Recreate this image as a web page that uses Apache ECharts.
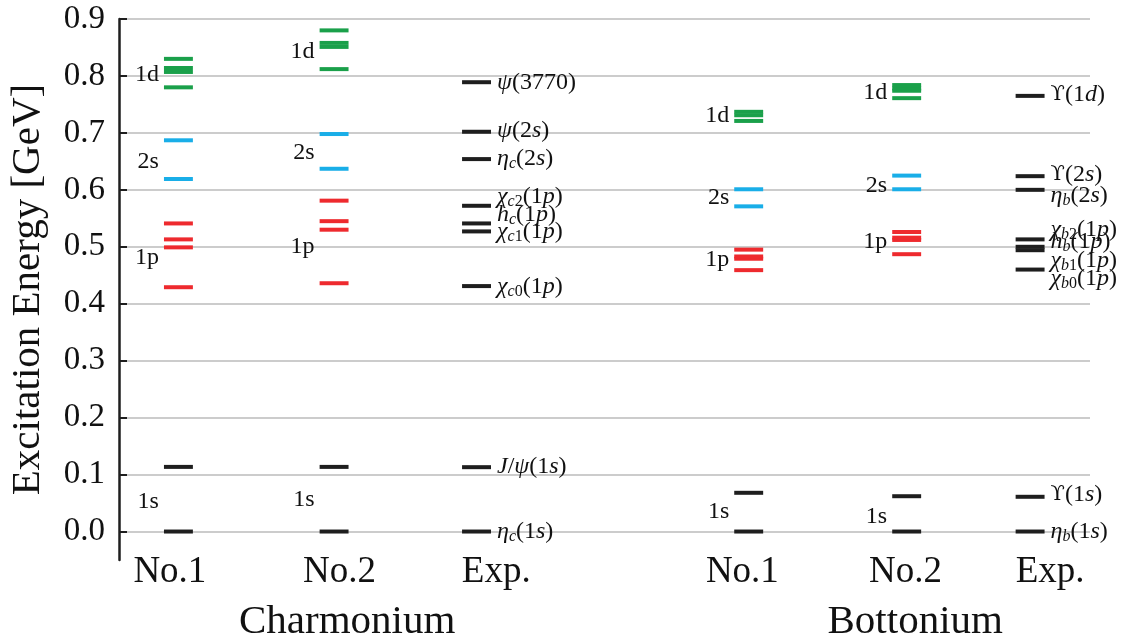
<!DOCTYPE html>
<html>
<head>
<meta charset="utf-8">
<script src="https://cdn.jsdelivr.net/npm/echarts@6/dist/echarts.min.js"></script>
<style>html,body{margin:0;padding:0;background:#fff}#c{width:1127px;height:643px}</style>
</head>
<body>
<div id="c"></div>
<script>
// ---------- data ----------
const categories = ['No.1', 'No.2', 'Exp.', 'No.1', 'No.2', 'Exp.'];
const groupNames = ['Charmonium', 'Bottonium'];
const yTicks = [0, 0.1, 0.2, 0.3, 0.4, 0.5, 0.6, 0.7, 0.8, 0.9];

// Charmonium, model No.1
const c1_1s = [0.000, 0.1135];
const c1_1p = [0.429, 0.499, 0.513, 0.541];
const c1_2s = [0.619, 0.687];
const c1_1d = [0.780, 0.807, 0.814, 0.830];
// Charmonium, model No.2
const c2_1s = [0.000, 0.1135];
const c2_1p = [0.436, 0.530, 0.545, 0.581];
const c2_2s = [0.637, 0.698];
const c2_1d = [0.812, 0.851, 0.858, 0.880];
// Charmonium, experiment
const cExp = [0.000, 0.113, 0.431, 0.527, 0.541, 0.572, 0.654, 0.702, 0.789];
const cExpNames = ['{i|η}{s|c}(1{i|s})', '{i|J}/{i|ψ}(1{i|s})', '{i|χ}{s|c}{n|0}(1{i|p})', '{i|χ}{s|c}{n|1}(1{i|p})',
  '{i|h}{s|c}(1{i|p})', '{i|χ}{s|c}{n|2}(1{i|p})', '{i|η}{s|c}(2{i|s})', '{i|ψ}(2{i|s})', '{i|ψ}(3770)'];
const cExpLabelY = [0.000, 0.114, 0.430, 0.526, 0.557, 0.588, 0.654, 0.703, 0.789];

// Bottomonium, model No.1
const b1_1s = [0.000, 0.068];
const b1_1p = [0.459, 0.479, 0.483, 0.495];
const b1_2s = [0.571, 0.601];
const b1_1d = [0.721, 0.731, 0.737];
// Bottomonium, model No.2
const b2_1s = [0.000, 0.062];
const b2_1p = [0.487, 0.512, 0.516, 0.526];
const b2_2s = [0.601, 0.625];
const b2_1d = [0.761, 0.774, 0.778, 0.784];
// Bottomonium, experiment
const bExp = [0.000, 0.061, 0.460, 0.494, 0.500, 0.513, 0.600, 0.624, 0.765];
const bExpNames = ['{i|η}{s|b}(1{i|s})', '{u|ϒ}(1{i|s})', '{i|χ}{s|b}{n|0}(1{i|p})', '{i|χ}{s|b}{n|1}(1{i|p})',
  '{i|h}{s|b}(1{i|p})', '{i|χ}{s|b}{n|2}(1{i|p})', '{i|η}{s|b}(2{i|s})', '{u|ϒ}(2{i|s})', '{u|ϒ}(1{i|d})'];
const bExpLabelY = [0.000, 0.065, 0.444, 0.475, 0.509, 0.530, 0.590, 0.626, 0.767];

// multiplet names and label heights per model column
const levelNames = ['1s', '1p', '2s', '1d'];
const c1LabelY = [0.053, 0.481, 0.649, 0.802];
const c2LabelY = [0.056, 0.500, 0.665, 0.842];
const b1LabelY = [0.035, 0.477, 0.586, 0.730];
const b2LabelY = [0.026, 0.509, 0.607, 0.770];

// ---------- layout (x axis units 0..100) ----------
const COL_X = [6.12, 22.15, 36.82, 64.85, 81.12, 93.83];
const CAT_LABEL_X = [5.24, 22.7, 38.85, 64.2, 81.0, 95.9];
const GROUP_X = [23.5, 82.0];
const HW = 1.49;

const FONT = 'Liberation Serif';
const COLORS = { s1: '#1e1e1e', p: '#ee2a2e', s2: '#19aee8', d: '#1aa04a' };

function pts(col, arr) { return arr.map(v => [COL_X[col], v]); }

const blackData = [].concat(pts(0, c1_1s), pts(1, c2_1s), pts(3, b1_1s), pts(4, b2_1s), pts(2, cExp), pts(5, bExp));
const redData = [].concat(pts(0, c1_1p), pts(1, c2_1p), pts(3, b1_1p), pts(4, b2_1p));
const blueData = [].concat(pts(0, c1_2s), pts(1, c2_2s), pts(3, b1_2s), pts(4, b2_2s));
const greenData = [].concat(pts(0, c1_1d), pts(1, c2_1d), pts(3, b1_1d), pts(4, b2_1d));

function levelSeries(name, data, color) {
  return {
    type: 'custom', name, data, color, silent: true,
    renderItem(params, api) {
      const x = api.value(0), y = api.value(1);
      const a = api.coord([x - HW, y]), b = api.coord([x + HW, y]);
      return { type: 'line', shape: { x1: a[0], y1: a[1], x2: b[0], y2: b[1] },
        style: { stroke: api.visual('color'), lineWidth: 4 } };
    }
  };
}

function multipletLabels(col, ys) {
  return ys.map((y, i) => [COL_X[col] - HW, y, levelNames[i]]);
}
const levelLabelData = [].concat(multipletLabels(0, c1LabelY), multipletLabels(1, c2LabelY),
  multipletLabels(3, b1LabelY), multipletLabels(4, b2LabelY));
const expLabelData = [].concat(
  cExpLabelY.map((y, i) => [COL_X[2] + HW, y, cExpNames[i]]),
  bExpLabelY.map((y, i) => [COL_X[5] + HW, y, bExpNames[i]]));

const rich = {
  i: { fontFamily: FONT, fontStyle: 'italic', fontSize: 24, color: '#111' },
  u: { fontFamily: '"DejaVu Serif", ' + FONT, fontSize: 21, color: '#111' },
  s: { fontFamily: FONT, fontStyle: 'italic', fontSize: 16, color: '#111', verticalAlign: 'bottom', padding: [10, 0, 0, 0] },
  n: { fontFamily: FONT, fontSize: 16, color: '#111', verticalAlign: 'bottom', padding: [10, 0, 0, 0] }
};

const chart = echarts.init(document.getElementById('c'), null, { renderer: 'canvas' });
chart.setOption({
  animation: false,
  backgroundColor: '#fff',
  grid: { left: 117, right: 37, top: 19, bottom: 83, containLabel: false },
  xAxis: [{
    type: 'value', min: 0, max: 100,
    axisLine: { show: false }, axisTick: { show: false }, splitLine: { show: false },
    axisLabel: {
      customValues: CAT_LABEL_X, margin: -6,
      fontFamily: FONT, fontSize: 37, color: '#111',
      formatter: v => categories[CAT_LABEL_X.indexOf(v)]
    }
  }, {
    type: 'value', min: 0, max: 100, position: 'bottom',
    axisLine: { show: false }, axisTick: { show: false }, splitLine: { show: false },
    axisLabel: {
      customValues: GROUP_X, margin: 42,
      fontFamily: FONT, fontSize: 41, color: '#111',
      formatter: v => groupNames[GROUP_X.indexOf(v)]
    }
  }],
  yAxis: {
    type: 'value', min: -0.05, max: 0.9,
    name: 'Excitation Energy [GeV]', nameLocation: 'middle', nameGap: 70,
    nameTextStyle: { fontFamily: FONT, fontSize: 41, color: '#111' },
    axisLine: { show: true, lineStyle: { color: '#1e1e1e', width: 2.5 } },
    axisTick: { show: true, inside: true, length: 8, customValues: yTicks, lineStyle: { color: '#1e1e1e', width: 2 } },
    axisLabel: { customValues: yTicks, margin: 14, fontFamily: FONT, fontSize: 33, color: '#111',
      formatter: v => v.toFixed(1) },
    splitLine: { show: true, lineStyle: { color: '#bbbbbb', width: 1.5 } }
  },
  series: [
    levelSeries('1s', blackData, COLORS.s1),
    levelSeries('1p', redData, COLORS.p),
    levelSeries('2s', blueData, COLORS.s2),
    levelSeries('1d', greenData, COLORS.d),
    {
      type: 'scatter', data: levelLabelData, symbolSize: 0, silent: true, itemStyle: { opacity: 1 },
      label: { show: true, position: 'left', distance: 5, formatter: p => p.data[2],
        fontFamily: FONT, fontSize: 24, color: '#111' }
    },
    {
      type: 'scatter', data: expLabelData, symbolSize: 0, silent: true, itemStyle: { opacity: 1 },
      label: { show: true, position: 'right', distance: 6, formatter: p => p.data[2],
        fontFamily: FONT, fontSize: 24, color: '#111', rich }
    }
  ]
});
</script>
</body>
</html>
